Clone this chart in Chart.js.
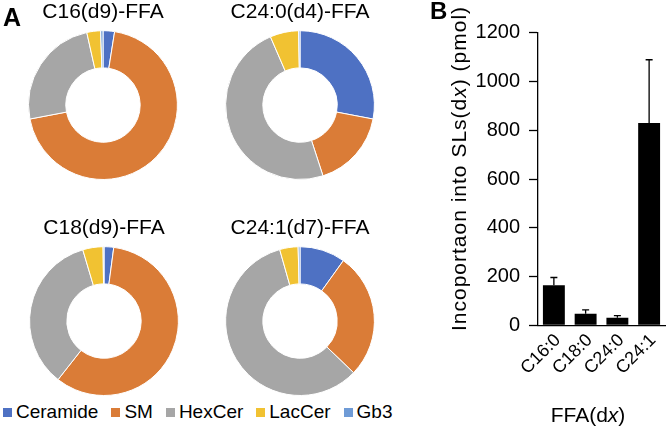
<!DOCTYPE html>
<html>
<head>
<meta charset="utf-8">
<script src="https://cdn.jsdelivr.net/npm/chart.js@4.4.1/dist/chart.umd.min.js"></script>
<style>
  html, body { margin: 0; padding: 0; background: #fff; }
  body { width: 667px; height: 432px; position: relative; overflow: hidden;
         font-family: "Liberation Sans", Arial, sans-serif; color: #000; }
  canvas { position: absolute; }
  .panel { position: absolute; font-weight: bold; line-height: normal; z-index: 2; }
  #legend { position: absolute; left: 3px; top: 401px; display: flex; align-items: center;
            gap: 13px; font-size: 19px; line-height: normal; }
  #legend .item { display: flex; align-items: center; gap: 4px; }
  #legend .box { width: 9px; height: 9px; }
</style>
</head>
<body>
<div class="panel" style="left:3px; top:3px; font-size:25px;">A</div>
<div class="panel" style="left:430px; top:-3px; font-size:24px;">B</div>

<canvas id="c16" width="190" height="180" style="left:8px; top:0px;"></canvas>
<canvas id="c240" width="190" height="180" style="left:205px; top:0px;"></canvas>
<canvas id="c18" width="190" height="180" style="left:9px; top:216px;"></canvas>
<canvas id="c241" width="190" height="180" style="left:205px; top:216px;"></canvas>
<div id="legend"></div>

<canvas id="bar" width="237" height="432" style="left:430px; top:0px;"></canvas>

<script>
// sphingolipid classes (doughnut slices), % of labelled SLs
const slClasses = ['Ceramide', 'SM', 'HexCer', 'LacCer', 'Gb3'];
const slColors = ['#4E71C3', '#DA7C37', '#A6A6A6', '#F1C232', '#6F9BD6'];
const c16Values = [2.5, 69.5, 24.5, 3.0, 0.5];
const c240Values = [28.0, 17.0, 48.5, 6.2, 0.3];
const c18Values = [2.1, 58.5, 34.8, 4.4, 0.2];
const c241Values = [9.9, 27.3, 58.4, 4.0, 0.4];

// panel B
const ffaLabels = ['C16:0', 'C18:0', 'C24:0', 'C24:1'];
const incorporation = [164, 47, 31, 830];
const incorporationErr = [32, 16, 9, 259];
const yMin = 0, yMax = 1200, yStep = 200;

const FONT = '"Liberation Sans", Arial, sans-serif';
Chart.defaults.font.family = FONT;
Chart.defaults.color = '#000';

function makeDonut(id, title, values) {
  new Chart(document.getElementById(id), {
    type: 'doughnut',
    data: {
      labels: slClasses,
      datasets: [{
        data: values,
        backgroundColor: slColors,
        borderColor: '#fff',
        borderWidth: 1,
        hoverOffset: 0
      }]
    },
    options: {
      responsive: false,
      animation: false,
      cutout: '50%',
      layout: { padding: 0 },
      plugins: {
        legend: { display: false },
        tooltip: { enabled: false },
        title: {
          display: true,
          text: title,
          color: '#000',
          font: { size: 21, weight: 'normal' },
          padding: { top: 0, bottom: 5 }
        }
      }
    }
  });
}

makeDonut('c16', 'C16(d9)-FFA', c16Values);
makeDonut('c240', 'C24:0(d4)-FFA', c240Values);
makeDonut('c18', 'C18(d9)-FFA', c18Values);
makeDonut('c241', 'C24:1(d7)-FFA', c241Values);

// shared legend
const legendEl = document.getElementById('legend');
slClasses.forEach((name, i) => {
  const item = document.createElement('div');
  item.className = 'item';
  const box = document.createElement('span');
  box.className = 'box';
  box.style.background = slColors[i];
  const txt = document.createElement('span');
  txt.textContent = name;
  item.appendChild(box);
  item.appendChild(txt);
  legendEl.appendChild(item);
});

// text with an italic "x" in it
function drawRich(ctx, parts, size) {
  let total = 0;
  parts.forEach(p => {
    ctx.font = (p.italic ? 'italic ' : '') + size + 'px ' + FONT;
    p.w = ctx.measureText(p.t).width;
    total += p.w;
  });
  let x = -total / 2;
  parts.forEach(p => {
    ctx.font = (p.italic ? 'italic ' : '') + size + 'px ' + FONT;
    ctx.fillText(p.t, x, 0);
    x += p.w;
  });
}

const extras = {
  id: 'extras',
  afterDatasetsDraw(chart) {
    const ctx = chart.ctx;
    const y = chart.scales.y;
    const meta = chart.getDatasetMeta(0);
    ctx.save();
    ctx.strokeStyle = '#000';
    ctx.lineWidth = 1.3;
    meta.data.forEach((bar, i) => {
      const top = y.getPixelForValue(incorporation[i]);
      const hi = y.getPixelForValue(incorporation[i] + incorporationErr[i]);
      ctx.beginPath();
      ctx.moveTo(bar.x, top);
      ctx.lineTo(bar.x, hi);
      ctx.moveTo(bar.x - 3.5, hi);
      ctx.lineTo(bar.x + 3.5, hi);
      ctx.stroke();
    });
    ctx.restore();
  },
  afterDraw(chart) {
    const ctx = chart.ctx;
    const xs = chart.scales.x;
    ctx.save();
    ctx.fillStyle = '#000';
    // x tick labels at 45 degrees
    ctx.font = '18px ' + FONT;
    ctx.textAlign = 'right';
    ctx.textBaseline = 'middle';
    ffaLabels.forEach((lab, i) => {
      ctx.save();
      ctx.translate(xs.getPixelForTick(i) + 4, xs.top + 12);
      ctx.rotate(-Math.PI / 4);
      ctx.fillText(lab, 0, 0);
      ctx.restore();
    });
    ctx.textAlign = 'left';
    // y title
    ctx.save();
    ctx.translate(30, 168.5);
    ctx.rotate(-Math.PI / 2);
    ctx.letterSpacing = '1px';
    drawRich(ctx, [{ t: 'Incoportaon into SLs(d' }, { t: 'x', italic: true }, { t: ') (pmol)' }], 21);
    ctx.restore();
    // x title
    ctx.save();
    ctx.translate(158, 416);
    drawRich(ctx, [{ t: 'FFA(d' }, { t: 'x', italic: true }, { t: ')' }], 21);
    ctx.restore();
    ctx.restore();
  }
};

new Chart(document.getElementById('bar'), {
  type: 'bar',
  data: {
    labels: ffaLabels,
    datasets: [{
      data: incorporation,
      backgroundColor: '#000',
      borderWidth: 0,
      categoryPercentage: 1,
      barPercentage: 0.69
    }]
  },
  options: {
    responsive: false,
    animation: false,
    layout: { padding: { top: 32.7, right: 2, left: 0, bottom: 0 } },
    plugins: { legend: { display: false }, tooltip: { enabled: false } },
    scales: {
      x: {
        grid: { display: false, drawTicks: false },
        border: { display: true, color: '#000', width: 1.3 },
        ticks: { display: false },
        afterFit: s => { s.height = 106.7; }
      },
      y: {
        min: yMin,
        max: yMax,
        grid: { drawOnChartArea: false, tickLength: 9, tickColor: '#000', tickWidth: 1.3 },
        border: { display: true, color: '#000', width: 1.3 },
        ticks: { stepSize: yStep, font: { size: 20 }, color: '#000', padding: 9,
                 callback: v => String(v) },
        afterFit: s => { s.width = 108; }
      }
    }
  },
  plugins: [extras]
});
</script>
</body>
</html>
